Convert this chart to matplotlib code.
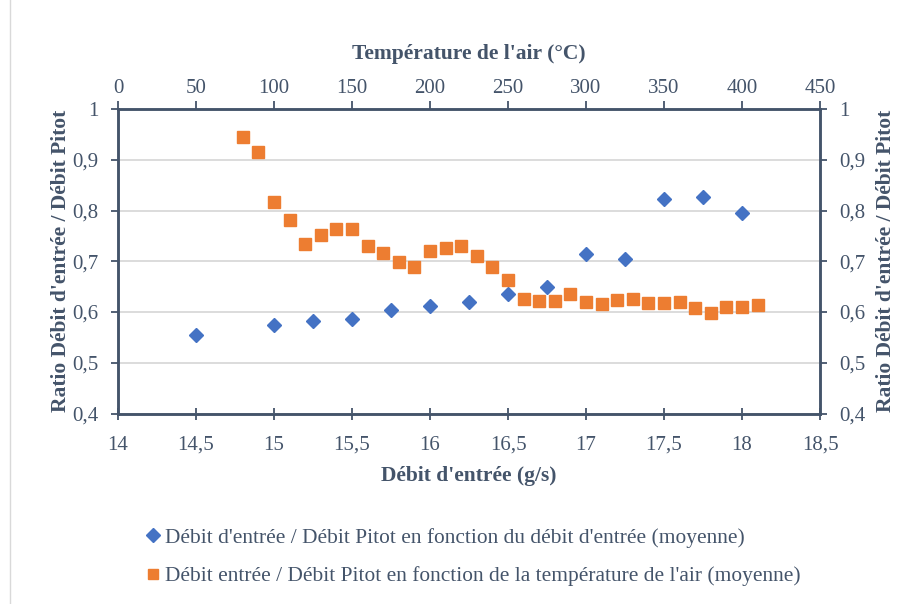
import matplotlib
matplotlib.use("Agg")
import matplotlib.pyplot as plt
from matplotlib.ticker import FuncFormatter, MultipleLocator
from matplotlib.lines import Line2D

# Data
debit = [14.5, 15.0, 15.25, 15.5, 15.75, 16.0, 16.25, 16.5, 16.75, 17.0, 17.25, 17.5, 17.75, 18.0]
ratio_debit = [0.554, 0.575, 0.583, 0.586, 0.604, 0.612, 0.619, 0.636, 0.650, 0.714, 0.705, 0.823, 0.826, 0.796]

temperature = [80, 90, 100, 110, 120, 130, 140, 150, 160, 170, 180, 190, 200, 210, 220,
               230, 240, 250, 260, 270, 280, 290, 300, 310, 320, 330, 340, 350, 360, 370,
               380, 390, 400, 410]
ratio_temp = [0.944, 0.915, 0.817, 0.782, 0.734, 0.751, 0.764, 0.764, 0.730, 0.717, 0.699, 0.689,
              0.720, 0.727, 0.730, 0.710, 0.689, 0.664, 0.626, 0.622, 0.622, 0.635, 0.619, 0.616,
              0.624, 0.626, 0.618, 0.618, 0.620, 0.608, 0.598, 0.609, 0.610, 0.614]

label_blue = "Débit d'entrée / Débit Pitot en fonction du débit d'entrée (moyenne)"
label_orange = "Débit entrée / Débit Pitot en fonction de la température de l'air (moyenne)"

TXT = "#44546A"
BLUE = "#4472C4"
ORANGE = "#ED7D31"
plt.rcParams['font.family'] = ['Liberation Serif', 'DejaVu Serif']

W, H = 917, 604
fig = plt.figure(figsize=(W / 100, H / 100), dpi=100)
fig.add_artist(Line2D([10 / W, 10 / W], [0, 1], transform=fig.transFigure,
                      color="#D9D9D9", linewidth=1))

left, right, top, bottom = 118, 820, 109, 413.5
ax = fig.add_axes([left / W, 1 - bottom / H, (right - left) / W, (bottom - top) / H])
ax2 = ax.twiny()

comma = lambda v, p: ("%g" % round(v, 2)).replace(".", ",")

ax.set_xlim(14, 18.5)
ax.set_ylim(0.4, 1.0)
ax.xaxis.set_major_locator(MultipleLocator(0.5))
ax.yaxis.set_major_locator(MultipleLocator(0.1))
ax.xaxis.set_major_formatter(FuncFormatter(comma))
ax.yaxis.set_major_formatter(FuncFormatter(comma))
ax.grid(axis="y", color="#D9D9D9", linewidth=1.3)
ax.set_axisbelow(True)

ax2.set_xlim(0, 450)
ax2.xaxis.set_major_locator(MultipleLocator(50))

for a in (ax, ax2):
    for s in a.spines.values():
        s.set_color(TXT)
        s.set_linewidth(1.8)

FS = 15
ax.tick_params(axis="x", direction="inout", length=8, width=1.3, color=TXT,
               labelcolor=TXT, labelsize=FS, pad=12)
ax.tick_params(axis="y", which="both", direction="out", length=5, width=1.3, color=TXT,
               labelcolor=TXT, labelsize=FS, left=True, right=True, labelleft=True,
               labelright=True, pad=9)
ax2.tick_params(axis="x", direction="out", length=6, width=1.3, color=TXT,
                labelcolor=TXT, labelsize=FS, pad=2)

ax.plot(debit, ratio_debit, linestyle="none", marker="D", markersize=7.5,
        color=BLUE, markeredgecolor=BLUE, zorder=3)
ax2.plot(temperature, ratio_temp, linestyle="none", marker="s", markersize=8.5,
         color=ORANGE, markeredgecolor=ORANGE, zorder=3)

TFS = 15.5
ax.set_xlabel("Débit d'entrée (g/s)", fontsize=TFS, fontweight="bold", color=TXT, labelpad=8)
ax.set_ylabel("Ratio Débit d'entrée / Débit Pitot", fontsize=TFS, fontweight="bold",
              color=TXT, labelpad=1)
ax2.set_xlabel("Température de l'air (°C)", fontsize=TFS, fontweight="bold", color=TXT,
               labelpad=14)
fig.text(886 / W, 1 - 261 / H, "Ratio Débit d'entrée / Débit Pitot", rotation=90,
         fontsize=TFS, fontweight="bold", color=TXT, ha="center", va="center")

handles = [Line2D([], [], linestyle="none", marker="D", markersize=7, color=BLUE),
           Line2D([], [], linestyle="none", marker="s", markersize=7.5, color=ORANGE)]
fig.legend(handles, [label_blue, label_orange], loc="upper left",
           bbox_to_anchor=(147 / W, 1 - 528 / H), frameon=False, fontsize=15.4,
           labelcolor=TXT, handlelength=0.6, handletextpad=0.25, labelspacing=0.85,
           borderpad=0, borderaxespad=0)

fig.savefig("out.png", dpi=100)
